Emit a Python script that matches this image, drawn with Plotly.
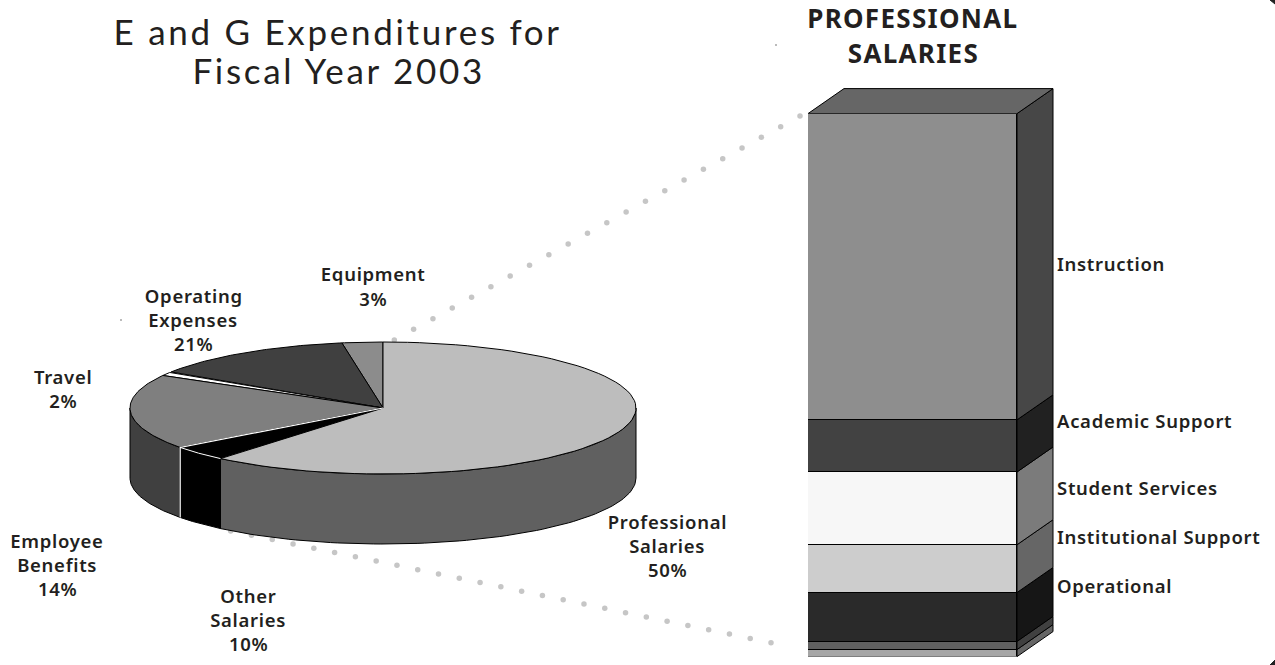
import numpy as np
import plotly.graph_objects as go

# ---- data ----
pie_names = ["Equipment", "Operating Expenses", "Travel", "Employee Benefits", "Other Salaries", "Professional Salaries"]
pie_drawn_share = [2.6, 13.2, 1.0, 18.4, 3.7, 61.1]   # drawn slice sizes, counter-clockwise from 12 o'clock
pie_top_colors = ["#8c8c8c", "#404040", "#ffffff", "#7f7f7f", "#000000", "#bdbdbd"]
pie_side_colors = ["#8c8c8c", "#404040", "#ffffff", "#404040", "#000000", "#606060"]

bar_names = ["Base 2", "Base 1", "Operational", "Institutional Support", "Student Services", "Academic Support", "Instruction"]
bar_values = [1.3, 1.5, 9.0, 8.8, 13.4, 9.6, 56.4]
bar_front = ["#a6a6a6", "#606060", "#2a2a2a", "#cdcdcd", "#f7f7f7", "#424242", "#8e8e8e"]
bar_side = ["#666666", "#404040", "#161616", "#666666", "#7b7b7b", "#212121", "#474747"]

title_lines = ["E and G Expenditures for", "Fiscal Year 2003"]
bar_title_lines = ["PROFESSIONAL", "SALARIES"]
pie_labels = [
    ("Equipment", 373, 273), ("3%", 373, 298),
    ("Operating", 194, 295), ("Expenses", 193, 319), ("21%", 193, 343),
    ("Travel", 63, 376), ("2%", 63, 400),
    ("Employee", 57, 540), ("Benefits", 57, 564), ("14%", 57, 588),
    ("Other", 248, 595), ("Salaries", 248, 619), ("10%", 248, 643),
    ("Professional", 667, 521), ("Salaries", 667, 545), ("50%", 667, 569),
]
bar_labels = [("Instruction", 263), ("Academic Support", 420), ("Student Services", 487),
              ("Institutional Support", 536), ("Operational", 585)]

FONT = "Noto Sans"
TEXT = "#231f20"
CX, CY, RX, RY, DEPTH = 383, 408, 253, 66, 70
BX0, BX1, BY0, BY1, DX, DY = 808, 1017, 113.6, 656.6, 36, -25


def rim(a, b, n=80):
    t = np.radians(np.linspace(a, b, n) * 3.6)
    return CX - RX * np.sin(t), CY - RY * np.cos(t)


def poly(x, y, fill, line="#000000", w=1):
    return go.Scatter(x=list(x) + [x[0]], y=list(y) + [y[0]], mode="lines", fill="toself",
                      fillcolor=fill, line=dict(color=line, width=w), hoverinfo="skip", showlegend=False)


fig = go.Figure()

# dotted connectors
for (x0, y0), (x1, y1), n in [((394.3, 340), (800, 116), 22), ((230.7, 531), (771, 642.7), 27)]:
    fig.add_trace(go.Scatter(x=np.linspace(x0, x1, n), y=np.linspace(y0, y1, n), mode="markers",
                             marker=dict(size=5.5, color="#c6c6c6"), hoverinfo="skip", showlegend=False))

# pie sides then tops
edges = np.concatenate([[0], np.cumsum(pie_drawn_share)])
for a, b, c in zip(edges[:-1], edges[1:], pie_side_colors):
    lo, hi = max(a, 25), min(b, 75)
    if hi > lo:
        x, y = rim(lo, hi)
        fig.add_trace(poly(np.r_[x, x[::-1]], np.r_[y, y[::-1] + DEPTH], c, w=1))
for a, b, c in zip(edges[:-1], edges[1:], pie_top_colors):
    x, y = rim(a, b)
    fig.add_trace(poly(np.r_[CX, x], np.r_[CY, y], c, w=1))

# white seam between Employee Benefits and Other Salaries
sx, sy = rim(edges[4], edges[4], 1)
fig.add_trace(go.Scatter(x=[CX, sx[0], sx[0]], y=[CY, sy[0], sy[0] + DEPTH], mode="lines",
                         line=dict(color="#ffffff", width=1.2), hoverinfo="skip", showlegend=False))
ex, ey = rim(edges[4], edges[5])
fig.add_trace(go.Scatter(x=ex, y=ey, mode="lines", line=dict(color="#ffffff", width=1), hoverinfo="skip", showlegend=False))

# stacked column: front faces through their own axes
for n, v, c in zip(bar_names, bar_values, bar_front):
    fig.add_trace(go.Bar(x=["Professional Salaries"], y=[v], name=n, xaxis="x2", yaxis="y2", width=1,
                         marker=dict(color=c, line=dict(color="#000000", width=1)),
                         hoverinfo="skip", showlegend=False, cliponaxis=False))

# column side and top faces, from the same values
scale = (BY1 - BY0) / sum(bar_values)
cum = np.concatenate([[0], np.cumsum(bar_values)])
for lo, hi, c in zip(cum[:-1], cum[1:], bar_side):
    yb, yt = BY1 - lo * scale, BY1 - hi * scale
    fig.add_trace(poly([BX1, BX1 + DX, BX1 + DX, BX1], [yb, yb + DY, yt + DY, yt], c))
fig.add_trace(poly([BX0, BX0 + DX, BX1 + DX, BX1], [BY0, BY0 + DY, BY0 + DY, BY0], "#666666"))

# tiny scan specks and corner marks
fig.add_trace(go.Scatter(x=[776, 121], y=[45, 320], mode="markers", marker=dict(size=1.5, color="#555555"),
                         hoverinfo="skip", showlegend=False))
fig.add_trace(poly([1270, 1275, 1275], [0, 0, 4], "#222222", "#222222"))
fig.add_trace(poly([1270, 1275, 1275], [665, 660, 665], "#222222", "#222222"))

TITLE_SIZE, HEAD_SIZE, LABEL_SIZE = 35, 26, 18.5
ann = []
for txt, y in zip(title_lines, [30.5, 70]):
    ann.append(dict(x=338, y=y, text=txt, font=dict(size=TITLE_SIZE, family="Lato", color=TEXT, weight=400)))
for txt, y in zip(bar_title_lines, [18, 53]):
    ann.append(dict(x=913, y=y, text=txt, font=dict(size=HEAD_SIZE, family=FONT, color=TEXT, weight=700)))
for txt, x, y in pie_labels:
    ann.append(dict(x=x, y=y, text=txt, font=dict(size=LABEL_SIZE, family=FONT, color=TEXT, weight=600)))
for txt, y in bar_labels:
    ann.append(dict(x=1054.5, y=y, text=txt, xanchor="left", align="left",
                    font=dict(size=LABEL_SIZE, family=FONT, color=TEXT, weight=600)))
for a in ann:
    a.update(xref="x", yref="y", showarrow=False, yanchor="middle")
    a.setdefault("xanchor", "center")

axis_off = dict(visible=False, fixedrange=True)
fig.update_layout(
    width=1275, height=665, margin=dict(l=0, r=0, t=0, b=0),
    paper_bgcolor="#ffffff", plot_bgcolor="rgba(0,0,0,0)",
    barmode="stack", bargap=0, showlegend=False, annotations=ann,
    xaxis=dict(range=[0, 1275], domain=[0, 1], **axis_off),
    yaxis=dict(range=[665, 0], domain=[0, 1], **axis_off),
    xaxis2=dict(domain=[BX0 / 1275, BX1 / 1275], anchor="y2", range=[-0.5, 0.5], type="category", **axis_off),
    yaxis2=dict(domain=[(665 - BY1) / 665, (665 - BY0) / 665], anchor="x2", range=[0, sum(bar_values)], **axis_off),
)
spacing_js = """
document.body.style.margin='0';document.body.style.overflow='hidden';
document.querySelectorAll('.annotation-text').forEach(function(t){
  var s=parseFloat(t.style.fontSize);
  t.style.letterSpacing = s>30 ? '2.7px' : (s>20 ? '1.3px' : '0.7px');
});
"""
fig.write_html("out.html", config={"displayModeBar": False}, post_script=spacing_js)
